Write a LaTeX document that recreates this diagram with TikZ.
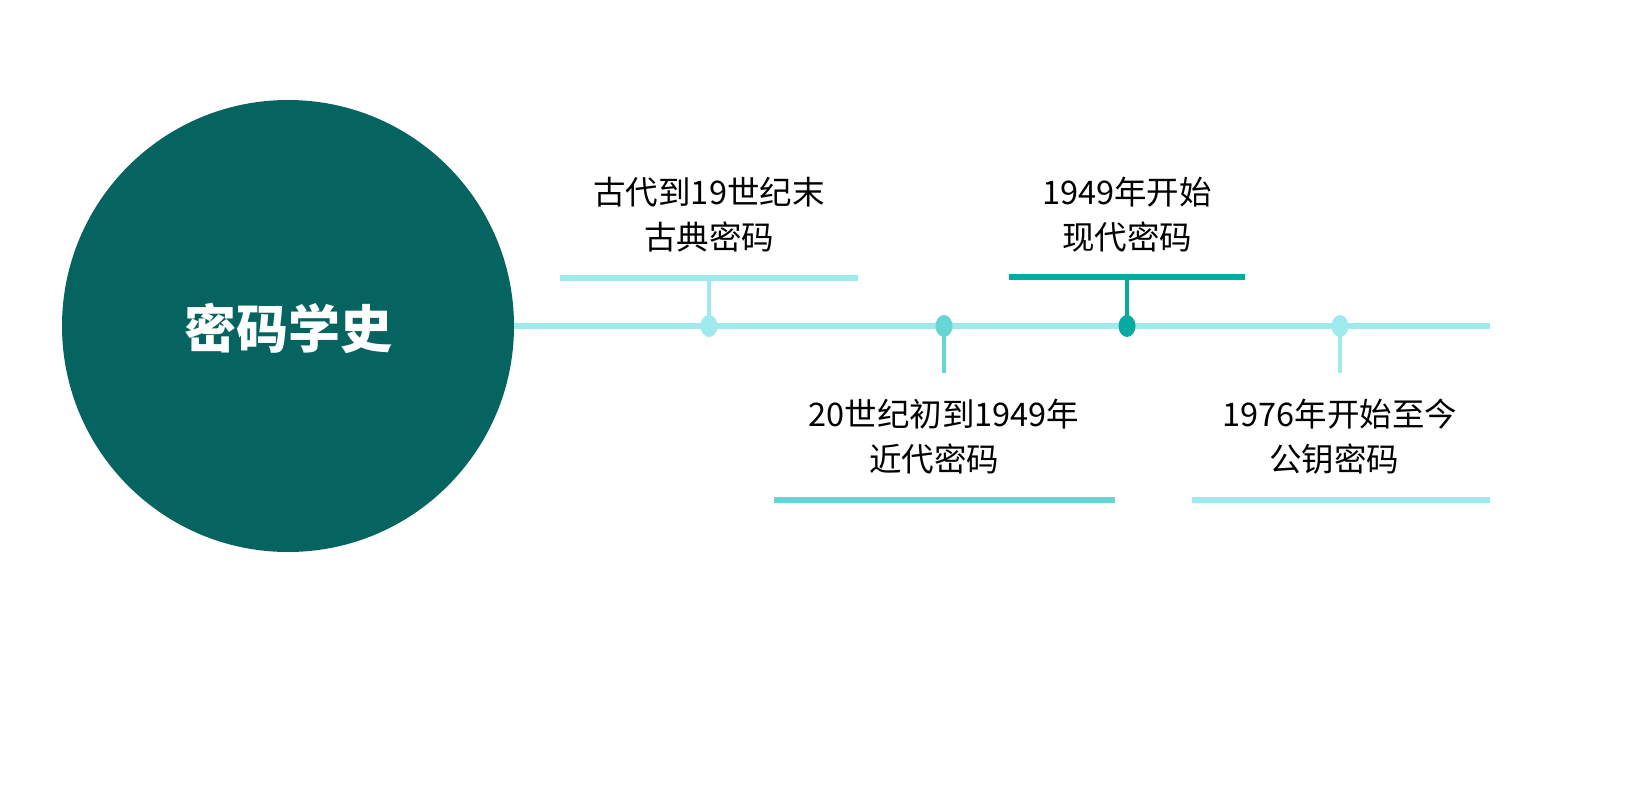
\documentclass[tikz,border=0pt]{standalone}
\usepackage{fontspec}
\setmainfont{Noto Sans CJK SC}
\definecolor{lightc}{HTML}{9EEAEE}
\definecolor{midc}{HTML}{66D6D4}
\definecolor{darkc}{HTML}{06AAA0}
\definecolor{circc}{HTML}{066460}
\tikzset{
  mainline/.style={line width=5.5pt},
  bar/.style={line width=6pt},
  stem/.style={line width=4pt},
  dotmark/.style={ellipse, minimum width=17pt, minimum height=22pt, inner sep=0pt},
  lbl/.style={align=center, font=\fontsize{32.5}{45}\selectfont, text=black, inner sep=0pt}
}
\usetikzlibrary{shapes.geometric}
\begin{document}
\begin{tikzpicture}[x=1pt,y=1pt]
\useasboundingbox (0,0) rectangle (1640,-787);
\fill[white] (0,0) rectangle (1640,-787);
% main circle
\node[circle, fill=circc, minimum size=452pt, inner sep=0pt] (c) at (288,-326) {};
\node[text=white, font=\fontsize{52}{52}\selectfont\bfseries] (t) at (288,-328) {密码学史};
% end of line
\coordinate (e) at (1490,-326);
\draw[mainline, lightc] (c.east) -- (e);
% stage 1
\coordinate (b1l) at (560,-278); \coordinate (b1r) at (858,-278); \coordinate (b1m) at (709,-278);
\node[dotmark, fill=lightc] (d1) at (709,-326) {};
\draw[bar, lightc] (b1l) -- (b1r);
\draw[stem, lightc] (b1m) -- (d1.center);
\node[lbl] (l1) at (709,-215) {古代到19世纪末\\古典密码};
% stage 2
\node[dotmark, fill=midc] (d2) at (944,-326) {};
\coordinate (s2) at (944,-373);
\draw[stem, midc] (d2.center) -- (s2);
\coordinate (b2l) at (774,-500); \coordinate (b2r) at (1115,-500);
\draw[bar, midc] (b2l) -- (b2r);
\node[lbl] (l2) at (944,-437) {20世纪初到1949年\\近代密码\hspace*{20pt}};
% stage 3
\node[dotmark, fill=darkc] (d3) at (1127,-326) {};
\coordinate (b3l) at (1009,-277); \coordinate (b3r) at (1245,-277); \coordinate (b3m) at (1127,-277);
\draw[bar, darkc] (b3l) -- (b3r);
\draw[stem, darkc] (b3m) -- (d3.center);
\node[lbl] (l3) at (1127,-215) {1949年开始\\现代密码};
% stage 4
\node[dotmark, fill=lightc] (d4) at (1340,-326) {};
\coordinate (s4) at (1340,-373);
\draw[stem, lightc] (d4.center) -- (s4);
\coordinate (b4l) at (1192,-500); \coordinate (b4r) at (1490,-500);
\draw[bar, lightc] (b4l) -- (b4r);
\node[lbl] (l4) at (1340,-437) {1976年开始至今\\公钥密码\hspace*{12pt}};
\end{tikzpicture}
\end{document}
